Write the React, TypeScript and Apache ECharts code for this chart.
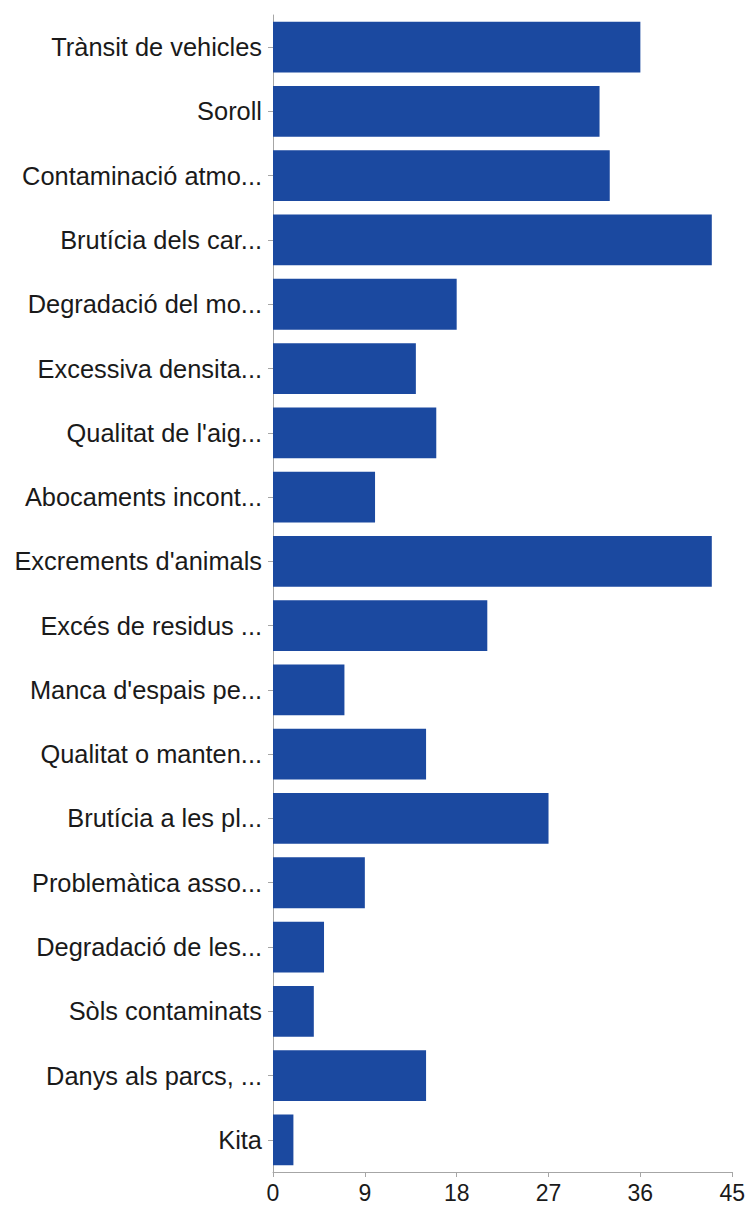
import React, { useEffect, useRef } from "react";
import * as echarts from "echarts";

const categories = [
  "Trànsit de vehicles",
  "Soroll",
  "Contaminació atmo...",
  "Brutícia dels car...",
  "Degradació del mo...",
  "Excessiva densita...",
  "Qualitat de l'aig...",
  "Abocaments incont...",
  "Excrements d'animals",
  "Excés de residus ...",
  "Manca d'espais pe...",
  "Qualitat o manten...",
  "Brutícia a les pl...",
  "Problemàtica asso...",
  "Degradació de les...",
  "Sòls contaminats",
  "Danys als parcs, ...",
  "Kita",
];

const values = [36, 32, 33, 43, 18, 14, 16, 10, 43, 21, 7, 15, 27, 9, 5, 4, 15, 2];

const xMin = 0;
const xMax = 45;
const xInterval = 9;

export default function App() {
  const ref = useRef<HTMLDivElement>(null);

  useEffect(() => {
    document.body.style.margin = "0";
    if (!ref.current) return;
    const chart = echarts.init(ref.current, undefined, { renderer: "svg" });
    const font = "'Liberation Sans', Arial, Helvetica, sans-serif";
    chart.setOption({
      animation: false,
      backgroundColor: "#ffffff",
      grid: { left: 273, right: 15, top: 15, bottom: 35, containLabel: false },
      xAxis: {
        type: "value",
        min: xMin,
        max: xMax,
        interval: xInterval,
        axisLine: { show: true, lineStyle: { color: "#a6a6a6", width: 1 } },
        axisTick: { show: true, length: 5, lineStyle: { color: "#a6a6a6" } },
        splitLine: { show: false },
        axisLabel: {
          color: "#1a1a1a",
          fontSize: 23,
          fontFamily: font,
          margin: 9,
          showMaxLabel: true,
          showMinLabel: true,
        },
      },
      yAxis: {
        type: "category",
        inverse: true,
        data: categories,
        axisLine: { show: true, lineStyle: { color: "#a6a6a6", width: 1 } },
        axisTick: { show: true, alignWithLabel: true, length: 5, lineStyle: { color: "#a6a6a6" } },
        axisLabel: {
          color: "#1a1a1a",
          fontSize: 25.4,
          fontFamily: font,
          margin: 11,
          interval: 0,
        },
      },
      series: [
        {
          type: "bar",
          data: values,
          barCategoryGap: "21%",
          itemStyle: { color: "#1b49a0" },
        },
      ],
    });
    return () => chart.dispose();
  }, []);

  return <div ref={ref} style={{ width: 748, height: 1207 }} />;
}
